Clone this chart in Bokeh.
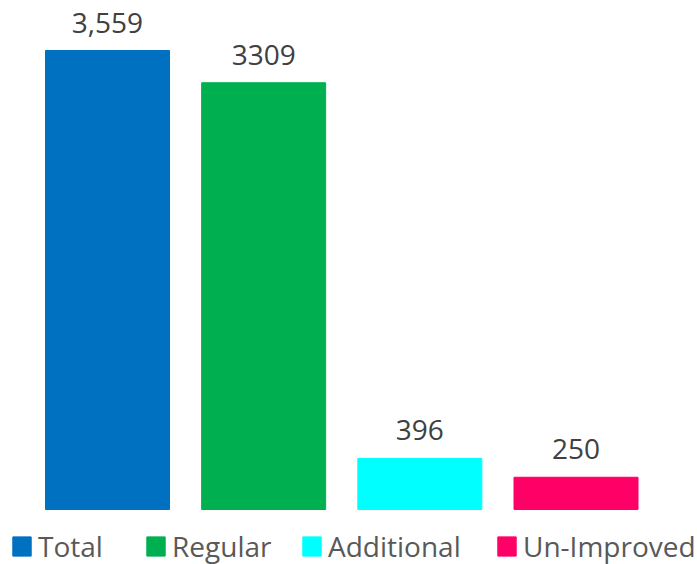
from bokeh.plotting import figure
from bokeh.models import ColumnDataSource, Legend, LegendItem, Range1d, LabelSet
from bokeh.core.properties import value
from bokeh.embed import file_html
from bokeh.resources import INLINE

categories = ["Total", "Regular", "Additional", "Un-Improved"]
values = [3559, 3309, 396, 250]
labels = ["3,559", "3309", "396", "250"]
colors = ["#0070C0", "#00B050", "#00FFFF", "#FF0066"]

W, H = 697, 564
# bar centres at 107 + 156.17*i px, baseline at 509 px, 459 px per 3559
px_per_cat = 156.17
px_per_unit = 459 / 3559
p = figure(width=W, height=H, output_backend="svg", toolbar_location=None,
           x_range=Range1d(-107 / px_per_cat, (W - 107) / px_per_cat),
           y_range=Range1d(-(H - 509) / px_per_unit, 509 / px_per_unit),
           min_border=0)
p.axis.visible = False
p.grid.visible = False
p.outline_line_color = None

src = ColumnDataSource(dict(x=list(range(len(categories))), top=values,
                            label=labels))
renderers = []
for i, c in enumerate(categories):
    s = ColumnDataSource(dict(x=[i], top=[values[i]]))
    r = p.vbar(x="x", top="top", bottom=0, width=124 / px_per_cat,
               color=colors[i], source=s)
    renderers.append(r)

lab = LabelSet(x="x", y="top", text="label", source=src, text_align="center",
               text_baseline="bottom", y_offset=18, text_font=value("Open Sans"),
               text_font_size="28px", text_color="#404040")
p.add_layout(lab)

legend_x = [10, 144, 300, 495]
for c, r, lx in zip(categories, renderers, legend_x):
    lg = Legend(items=[LegendItem(label=c, renderers=[r])],
                orientation="horizontal", location=(lx, -1), padding=0, margin=0,
                glyph_width=23, glyph_height=24, label_height=24, label_standoff=5,
                label_text_font="Open Sans", label_text_font_size="28px",
                label_text_color="#595959", label_text_baseline="middle",
                border_line_color=None, background_fill_alpha=0)
    p.add_layout(lg)

open("out.html", "w").write(file_html(p, INLINE))
